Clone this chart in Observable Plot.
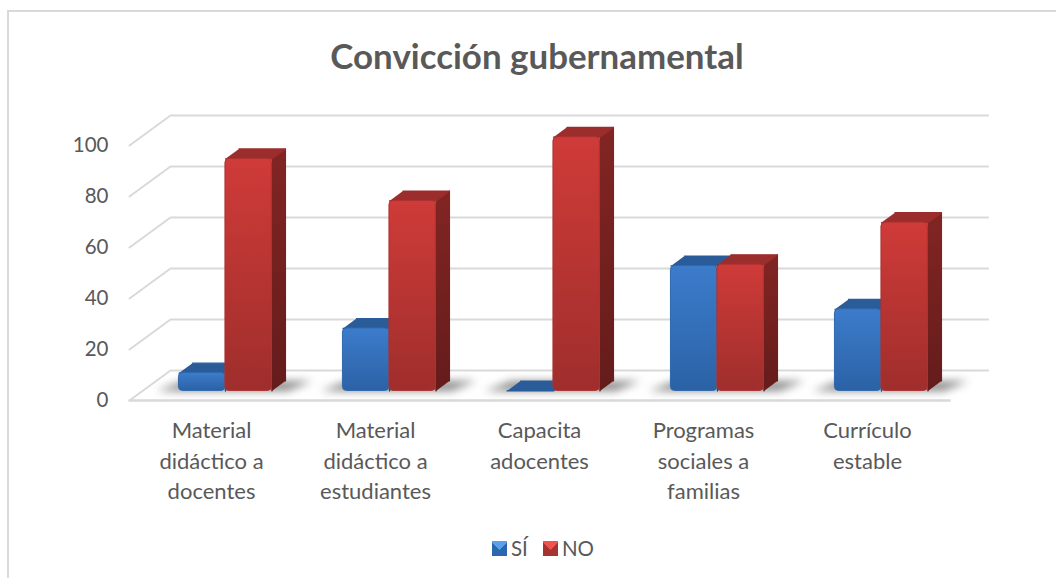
<!DOCTYPE html>
<html lang="es">
<head>
<meta charset="utf-8">
<script src="https://cdn.jsdelivr.net/npm/d3@7"></script>
<script src="https://cdn.jsdelivr.net/npm/@observablehq/plot@0.6"></script>
<style>
html,body{margin:0;padding:0;background:#fff;overflow:hidden;width:1056px;height:578px}
#frame{position:absolute;left:7px;top:10px;width:1100px;height:600px;border:2px solid #d9d9d9;box-sizing:border-box}
#wrap{position:absolute;left:0;top:0;width:1056px;height:578px;font-family:Lato,sans-serif;color:#595959}
#title{position:absolute;left:0;top:0;width:1074px;height:90px;line-height:111px;text-align:center;font-weight:700;font-size:34.9px}
#chart{position:absolute;left:0;top:90px}
#legend{position:absolute;left:492px;top:532px;height:32px;display:flex;align-items:center;font-size:20.5px}
.sw{width:15px;height:15px;box-sizing:border-box;display:inline-block;margin-right:4px}
.lab{margin-right:15px}
</style>
</head>
<body>
<div id="frame"></div>
<div id="wrap">
  <div id="title">Convicción gubernamental</div>
  <div id="chart"></div>
  <div id="legend"></div>
</div>
<script>
const categories = ["Material\ndidáctico a\ndocentes", "Material\ndidáctico a\nestudiantes", "Capacita\nadocentes", "Programas\nsociales a\nfamilias", "Currículo\nestable"];
const si = [7, 24.5, 0, 49, 32];
const no = [91, 74.5, 99.5, 49.5, 66];
const yTicks = [0, 20, 40, 60, 80, 100];

// oblique projection: depth t (0 front, 1 back wall) shifts x and y in data units
const DX = 41 / 164, DY = 30 / 2.55;
const px = (x, t) => x + t * DX;
const py = (v, t) => v + t * DY;
const T0 = 0.32, T1 = 0.65, W = 0.2835, X0 = -0.5, X1 = 4.5, NUDGE = 0.005;
const offs = [-W + NUDGE, NUDGE]; // SÍ left of center, NO right of center

const frontRow = (vals, k) => vals.map((v, i) => ({
  x1: px(i + offs[k], T0), x2: px(i + offs[k] + W, T0), y1: py(0, T0), y2: py(v, T0)
})).filter((d, i) => vals[i] > 0);

const poly = (vals, k, face) => vals.flatMap((v, i) => {
  const L = i + offs[k], R = L + W;
  const pts = face === "top"
    ? [[L, v, T0], [R, v, T0], [R, v, T1], [L, v, T1]]
    : [[R, 0, T0], [R, v, T0], [R, v, T1], [R, 0, T1]];
  return (face === "side" && v === 0) ? [] : pts.map(([a, b, t]) => ({id: i, x: px(a, t), y: py(b, t)}));
});

const shadow = [...categories.keys()].flatMap(i => [
  [i - W - 0.13, T0], [i + W + 0.1, T0], [i + W + 0.17, T1], [i - W - 0.05, T1]
].map(([a, t]) => ({id: i, x: px(a, t), y: py(0, t)})));

const grid = yTicks.flatMap(v => [[X0, 0], [X0, 1], [X1 - 0.015, 1]].map(([a, t]) => ({id: v, x: px(a, t), y: py(v, t)})));
const floorFront = [{x: X0, y: 0}, {x: X1, y: 0}];

const defs = () => {
  const d = d3.create("svg:defs");
  const add = (id, a, b) => {
    const g = d.append("linearGradient").attr("id", id).attr("x1", 0).attr("y1", 0).attr("x2", 0).attr("y2", 1);
    g.append("stop").attr("offset", 0).attr("stop-color", a);
    g.append("stop").attr("offset", 1).attr("stop-color", b);
  };
  add("blueF", "#3c7ccb", "#2b62a6");
  add("redF", "#cf3b38", "#9f2e2c");
  add("blueS", "#224f86", "#1c406d");
  add("redS", "#822523", "#641c1b");
  return d.node();
};

const polyMark = (data, fill) => Plot.line(data, {x: "x", y: "y", z: "id", fill, stroke: fill, strokeWidth: 1.2, strokeLinejoin: "round"});
const frontMark = (data, fill, edge) => Plot.rect(data, {x1: "x1", x2: "x2", y1: "y1", y2: "y2", fill, stroke: edge, strokeWidth: 1, r: 4});

const chart = Plot.plot({
  width: 1056, height: 440,
  marginLeft: 129, marginRight: 107, marginTop: 55, marginBottom: 130,
  x: {type: "linear", domain: [X0, X1], range: [129, 949], axis: null},
  y: {domain: [0, 100], range: [310, 55], label: null},
  style: {fontFamily: "Lato, sans-serif", fontSize: "20.5px", color: "#595959", background: "transparent", overflow: "visible"},
  marks: [
    defs,
    Plot.line(grid, {x: "x", y: "y", z: "id", stroke: "#d9d9d9", strokeWidth: 2}),
    Plot.line(floorFront, {x: "x", y: "y", stroke: "#d9d9d9", strokeWidth: 2.5}),
    Plot.axisY({ticks: yTicks, anchor: "left", tickSize: 0, tickPadding: 21, label: null, fontSize: 20.5, fill: "#595959"}),
    Plot.text(categories, {x: (d, i) => i, y: () => 0, text: d => d, dy: 16, lineAnchor: "top", lineHeight: 1.39, fontSize: 22, fill: "#595959"}),
    Plot.line(shadow, {x: "x", y: "y", z: "id", fill: "#666", fillOpacity: 0.75, imageFilter: "blur(4px)"}),
    polyMark(poly(si, 0, "side"), "url(#blueS)"),
    polyMark(poly(si, 0, "top"), "#2a5c99"),
    polyMark(poly(no, 1, "side"), "url(#redS)"),
    polyMark(poly(no, 1, "top"), "#9b2e2c"),
    frontMark(frontRow(si, 0), "url(#blueF)", "#2f68ad"),
    frontMark(frontRow(no, 1), "url(#redF)", "#ab3230")
  ]
});
document.getElementById("chart").append(chart);

const legendItems = [["SÍ", "#2c66ad", "#5aa0ea"], ["NO", "#a83230", "#f0524e"]];
const legend = d3.select("#legend");
legendItems.forEach(([name, dark, light]) => {
  legend.append("span").attr("class", "sw")
    .style("background", `conic-gradient(from 315deg at 50% 60%, ${light} 0 90deg, ${dark} 90deg 360deg)`);
  legend.append("span").attr("class", "lab").text(name);
});
</script>
</body>
</html>
